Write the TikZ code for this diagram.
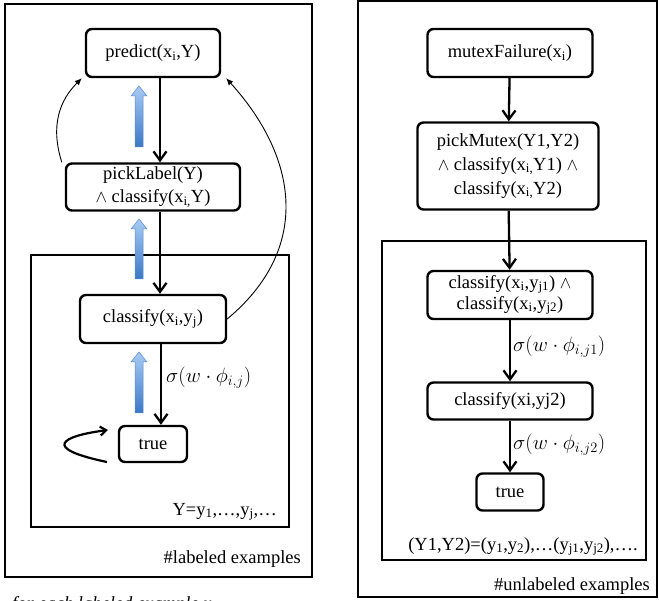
\documentclass[tikz,border=0pt]{standalone}
\usepackage{fontspec}
\setmainfont{Liberation Serif}
\usetikzlibrary{arrows.meta, calc}
\tikzset{
  box/.style = {draw, line width=2.4pt, rounded corners=6pt, align=center, inner sep=2pt,
                font=\fontsize{18.5}{23}\selectfont},
  frame/.style = {draw, line width=2.4pt},
  flow/.style = {line width=2.3pt, -{Straight Barb[length=9pt, width=13pt]}},
  back/.style = {line width=0.9pt, -{Latex[length=7pt, width=6pt]}},
  lbl/.style = {font=\fontsize{18.5}{20}\selectfont, inner sep=0pt},
  mlbl/.style = {font=\fontsize{19.5}{21}\selectfont, inner sep=0pt, anchor=west}
}
\definecolor{bluetop}{HTML}{A9CBF4}
\definecolor{bluebot}{HTML}{3B78C6}
\definecolor{blueline}{HTML}{5A8AD0}
\newcommand{\uparr}[3]{%
  \shade[top color=bluetop, bottom color=bluebot, draw=blueline, line width=0.5pt]
    (#1-4,#3) -- (#1-4,#2+10) -- (#1-8,#2+10) -- (#1,#2) -- (#1+8,#2+10)
    -- (#1+4,#2+10) -- (#1+4,#3) -- cycle;}
\newcommand{\sub}[1]{\textsubscript{#1}}

\begin{document}
\begin{tikzpicture}[x=1pt, y=-1pt]
\useasboundingbox (0,0) rectangle (659,601);
\draw[frame] (5,4) rectangle (312,577);
\draw[frame, line width=2pt] (31,255) rectangle (289,527);
\draw[frame] (358,1) rectangle (657,597);
\draw[frame, line width=2pt] (382,241) rectangle (646,560);

\node[box, minimum width=134pt, minimum height=48pt] (pr) at (153,53) {predict(x\sub{i},Y)};
\node[box, minimum width=174pt, minimum height=47pt] (pl) at (153,187) {pickLabel(Y)\\$\wedge$ classify(x\sub{i,}Y)};
\node[box, minimum width=146pt, minimum height=48pt] (cl) at (153,319) {classify(x\sub{i},y\sub{j})};
\node[box, minimum width=68pt, minimum height=36pt] (tr) at (153,444) {true};

\draw[flow] ([xshift=7pt]pr.south) -- ([xshift=7pt]pl.north);
\draw[flow] ([xshift=7pt]pl.south) -- ([xshift=7pt]cl.north);
\draw[flow] ([xshift=8pt]cl.south) -- ([xshift=8pt]tr.north);
\node[mlbl] (s1) at (166,378) {$\sigma(w\cdot\phi_{i,j})$};

\uparr{139}{86}{147}
\uparr{139}{219}{279}
\uparr{139}{352}{413}

\draw[back] ([xshift=-3pt]pl.north west) .. controls (50,125) and (60,100) .. ([xshift=-3pt]pr.south west);
\draw[back] (cl.east) .. controls (310,250) and (300,160) .. ([xshift=5pt]pr.south east);
\coordinate (la) at (107,462);
\coordinate (lb) at (108,430);
\draw[line width=2.2pt, -{Straight Barb[length=6pt, width=9pt]}] (la) .. controls (40,448) and (62,436) .. (lb);

\node[lbl, anchor=base east] (yl) at (277,515) {Y=y\sub{1},\dots,y\sub{j},\dots};
\node[lbl, anchor=base east] (ex1) at (301,563) {\#labeled examples};
\node[lbl, anchor=base west, font=\fontsize{18.5}{20}\selectfont\itshape] (fe) at (12,609) {for each labeled example x\sub{i}};

\node[box, minimum width=165pt, minimum height=48pt] (mf) at (510,53) {mutexFailure(x\sub{i})};
\node[box, minimum width=181pt, minimum height=87pt, font=\fontsize{18.5}{24}\selectfont] (pm) at (508,166) {pickMutex(Y1,Y2)\\$\wedge$ classify(x\sub{i,}Y1) $\wedge$\\classify(x\sub{i,}Y2)};
\node[box, minimum width=165pt, minimum height=48pt, font=\fontsize{18.5}{21}\selectfont] (cp) at (510,295) {classify(x\sub{i},y\sub{j1}) $\wedge$\\classify(x\sub{i},y\sub{j2})};
\node[box, minimum width=165pt, minimum height=37pt] (c2) at (510,401) {classify(xi,yj2)};
\node[box, minimum width=67pt, minimum height=37pt] (t2) at (510,492) {true};

\draw[flow] (mf) -- (pm);
\draw[flow] (pm) -- (cp);
\draw[flow] (cp) -- (c2);
\draw[flow] (c2) -- (t2);
\node[mlbl] (s2) at (513,347) {$\sigma(w\cdot\phi_{i,j1})$};
\node[mlbl] (s3) at (513,445) {$\sigma(w\cdot\phi_{i,j2})$};

\node[lbl, anchor=base] (yy) at (523,550) {(Y1,Y2)=(y\sub{1},y\sub{2}),\dots(y\sub{j1},y\sub{j2}),\dots.};
\node[lbl, anchor=base east] (ex2) at (650,590) {\#unlabeled examples};
\end{tikzpicture}
\end{document}
